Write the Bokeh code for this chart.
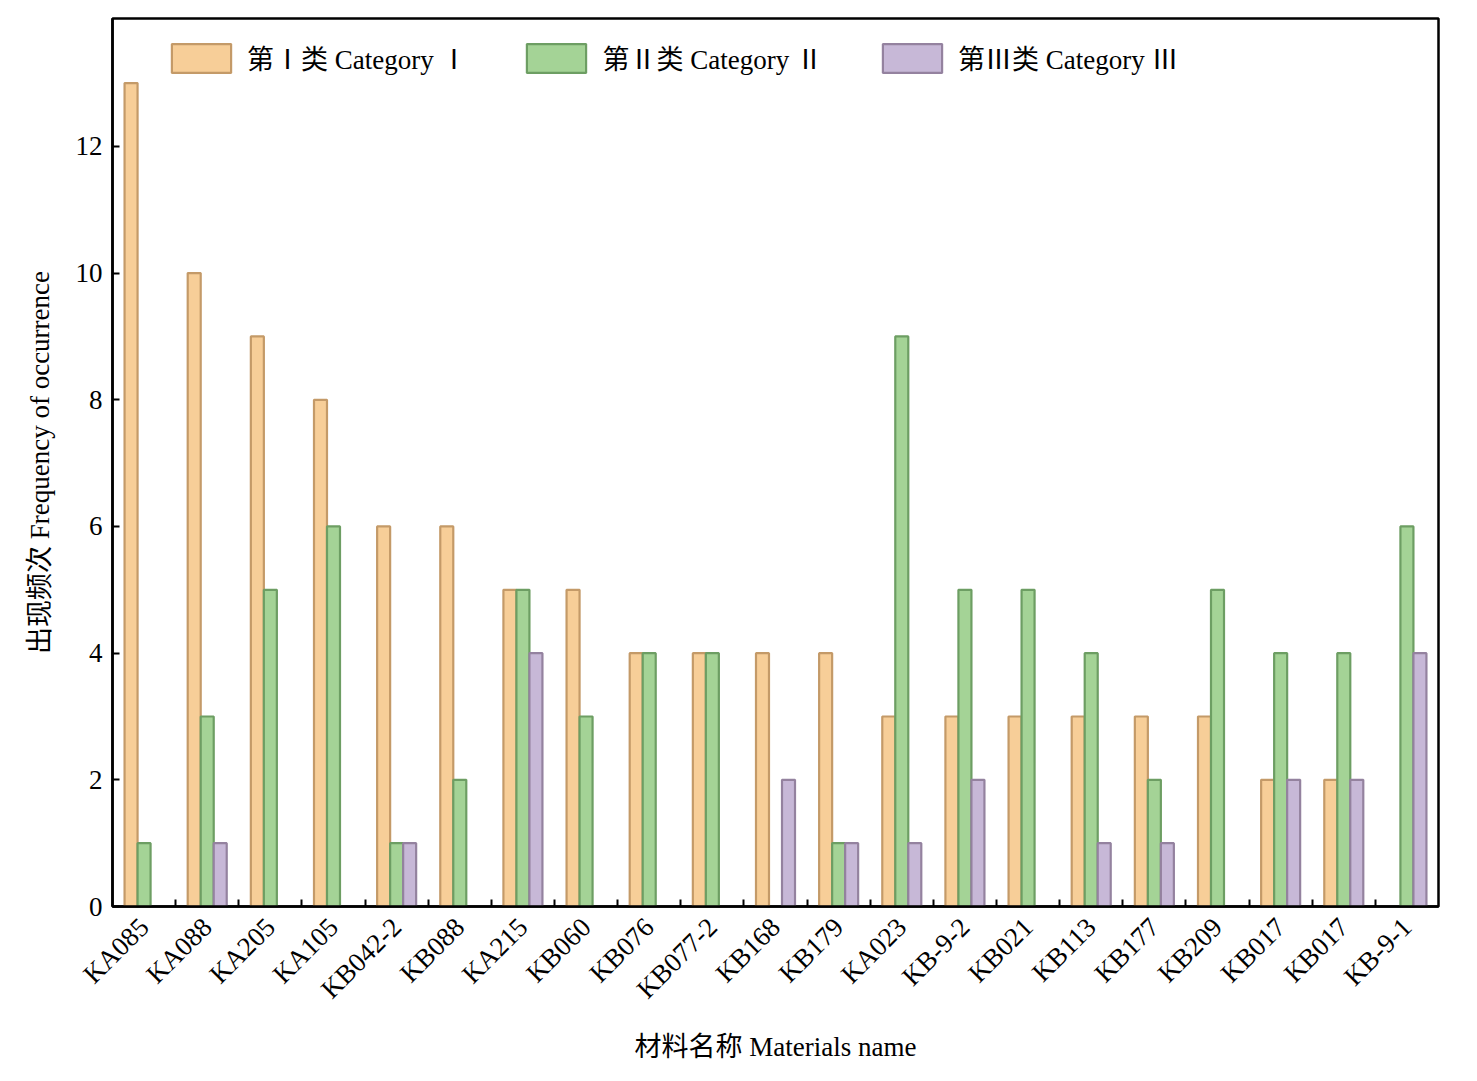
import math
from bokeh.plotting import figure
from bokeh.models import ColumnDataSource, FixedTicker, Range1d, Legend, LegendItem
from bokeh.embed import file_html
from bokeh.resources import INLINE

materials = ["KA085", "KA088", "KA205", "KA105", "KB042-2", "KB088", "KA215", "KB060",
             "KB076", "KB077-2", "KB168", "KB179", "KA023", "KB-9-2", "KB021", "KB113",
             "KB177", "KB209", "KB017", "KB017", "KB-9-1"]
cat1 = [13, 10, 9, 8, 6, 6, 5, 5, 4, 4, 4, 4, 3, 3, 3, 3, 3, 3, 2, 2, 0]
cat2 = [1, 3, 5, 6, 1, 2, 5, 3, 4, 4, 0, 1, 9, 5, 5, 4, 2, 5, 4, 4, 6]
cat3 = [0, 1, 0, 0, 1, 0, 4, 0, 0, 0, 2, 1, 1, 2, 0, 1, 1, 0, 2, 2, 4]
series_names = ["第Ⅰ类 Category Ⅰ", "第Ⅱ类 Category Ⅱ", "第Ⅲ类 Category Ⅲ"]
y_ticks = [0, 2, 4, 6, 8, 10, 12]

FONT = "Liberation Serif, Noto Sans CJK SC"
FS = "27px"
fills = ["#F7CE98", "#A4D396", "#C7B8D7"]
lines = ["#C49A68", "#6D9E63", "#94829F"]
bw = 0.206
offsets = [-bw, 0.0, bw]

p = figure(width=1463, height=1073, output_backend="svg", toolbar_location=None,
           x_range=Range1d(-0.5, len(materials) - 0.5), y_range=Range1d(0, 14.02),
           min_border_left=112, min_border_right=25, min_border_top=18, min_border_bottom=167)
p.xgrid.visible = False
p.ygrid.visible = False
p.outline_line_color = "black"
p.outline_line_width = 2.5
p.background_fill_color = "white"

items = []
for vals, name, off, fc, lc in zip([cat1, cat2, cat3], series_names, offsets, fills, lines):
    xs = [i + off for i, v in enumerate(vals) if v > 0]
    ys = [v for v in vals if v > 0]
    src = ColumnDataSource(dict(x=xs, top=ys))
    r = p.vbar(x="x", top="top", width=bw, bottom=0, source=src,
               fill_color=fc, line_color=lc, line_width=2.2)
    items.append(LegendItem(label=name, renderers=[r]))

legend = Legend(items=items, orientation="horizontal", location=(52, 829),
                glyph_width=74, glyph_height=36, label_height=36,
                label_text_font=FONT, label_text_font_size=FS, label_text_color="black",
                label_text_baseline="middle",
                label_standoff=9, spacing=52, padding=2,
                border_line_color=None, background_fill_alpha=0)
p.add_layout(legend)

# x axis
p.xaxis.ticker = FixedTicker(ticks=list(range(len(materials))),
                             minor_ticks=[i + 0.5 for i in range(len(materials) - 1)])
p.xaxis.major_label_overrides = {i: m for i, m in enumerate(materials)}
p.xaxis.major_label_orientation = math.pi / 4
p.xaxis.major_tick_in = 0
p.xaxis.major_tick_out = 0
p.xaxis.minor_tick_in = 7
p.xaxis.minor_tick_out = 0
p.xaxis.minor_tick_line_width = 2
p.xaxis.axis_line_width = 2.5
p.xaxis.major_label_text_font = FONT
p.xaxis.major_label_text_font_size = FS
p.xaxis.major_label_text_color = "black"
p.xaxis.major_label_standoff = 16
p.xaxis.axis_label = "材料名称 Materials name"
p.xaxis.axis_label_text_font = FONT
p.xaxis.axis_label_text_font_size = FS
p.xaxis.axis_label_text_font_style = "normal"
p.xaxis.axis_label_text_color = "black"
p.xaxis.axis_label_standoff = 14

# y axis
p.yaxis.ticker = FixedTicker(ticks=y_ticks)
p.yaxis.major_tick_in = 7
p.yaxis.major_tick_out = 0
p.yaxis.major_tick_line_width = 2
p.yaxis.minor_tick_line_color = None
p.yaxis.axis_line_width = 2.5
p.yaxis.major_label_text_font = FONT
p.yaxis.major_label_text_font_size = FS
p.yaxis.major_label_text_color = "black"
p.yaxis.major_label_standoff = 10
p.yaxis.axis_label = "出现频次 Frequency of occurrence"
p.yaxis.axis_label_text_font = FONT
p.yaxis.axis_label_text_font_size = FS
p.yaxis.axis_label_text_font_style = "normal"
p.yaxis.axis_label_text_color = "black"
p.yaxis.axis_label_standoff = 18

open("out.html", "w").write(file_html(p, INLINE))
